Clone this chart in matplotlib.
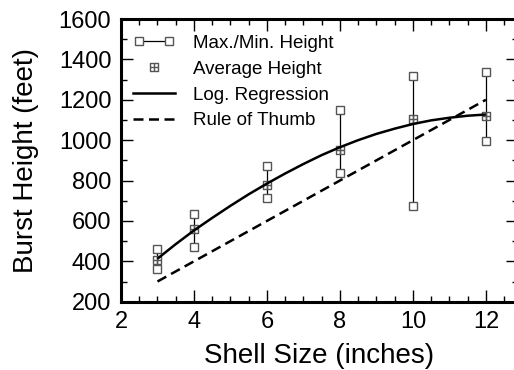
import matplotlib
matplotlib.use("Agg")
import matplotlib.pyplot as plt
from matplotlib.lines import Line2D
from matplotlib.path import Path
from matplotlib.legend_handler import HandlerLine2D
from matplotlib.ticker import MultipleLocator

plt.rcParams['font.family'] = ['Liberation Sans', 'DejaVu Sans']

# ---- data ----
sizes = [3, 4, 6, 8, 10, 12]
max_h = [460, 633, 873, 1147, 1317, 1338]
avg_h = [406, 561, 777, 950, 1107, 1119]
min_h = [364, 472, 712, 837, 672, 994]

reg_x = [3, 3.5, 4, 4.5, 5, 5.5, 6, 6.5, 7, 7.5, 8, 8.5, 9, 9.5, 10, 10.5, 11, 11.5, 12]
reg_y = [413, 485, 553, 615, 675, 732, 785, 835, 882, 926, 965, 1000, 1031, 1057, 1080, 1098, 1111, 1121, 1127]

thumb_x = [3, 12]
thumb_y = [300, 1200]

x_ticks = [2, 4, 6, 8, 10, 12]
y_ticks = [200, 400, 600, 800, 1000, 1200, 1400, 1600]

labels = ["Max./Min. Height", "Average Height", "Log. Regression", "Rule of Thumb"]

# ---- figure ----
W, H = 514, 370
fig = plt.figure(figsize=(W / 100, H / 100), dpi=100)
left, right, top, bottom = 121, 518, 19, 301.7
ax = fig.add_axes([left / W, 1 - bottom / H, (right - left) / W, (bottom - top) / H])

sq_color = '#555555'
ms = 5.8

# square with a plus inside
plus_sq = Path(
    [(-1, -1), (1, -1), (1, 1), (-1, 1), (-1, -1), (-1, 0), (1, 0), (0, -1), (0, 1)],
    [Path.MOVETO, Path.LINETO, Path.LINETO, Path.LINETO, Path.CLOSEPOLY,
     Path.MOVETO, Path.LINETO, Path.MOVETO, Path.LINETO])

ax.vlines(sizes, min_h, max_h, color='black', lw=0.9, zorder=2)
ax.plot(sizes, max_h, 's', ms=ms, mfc='white', mec=sq_color, mew=1.0, ls='none', zorder=3)
ax.plot(sizes, min_h, 's', ms=ms, mfc='white', mec=sq_color, mew=1.0, ls='none', zorder=3)
ax.plot(sizes, avg_h, marker=plus_sq, ms=ms, mfc='none', mec=sq_color, mew=1.0, ls='none', zorder=3)

ax.plot(reg_x, reg_y, color='black', lw=1.8, zorder=4, solid_capstyle='butt')
ax.plot(thumb_x, thumb_y, color='black', lw=1.8, dashes=(4.0, 2.2), zorder=4)

ax.set_xlim(2, 12.88)
ax.set_ylim(200, 1600)
ax.set_xticks(x_ticks)
ax.set_yticks(y_ticks)
ax.xaxis.set_minor_locator(MultipleLocator(0.5))
ax.yaxis.set_minor_locator(MultipleLocator(100))
ax.tick_params(which='both', direction='in', top=True, right=True, width=1.0, color='black')
ax.tick_params(which='major', length=8.5, labelsize=17, pad=7)
ax.tick_params(which='minor', length=4.3)
for s in ax.spines.values():
    s.set_linewidth(2.2)

ax.set_xlabel("Shell Size (inches)", fontsize=20, labelpad=7)
ax.set_ylabel("Burst Height (feet)", fontsize=20, labelpad=14)

# ---- legend ----
h1 = Line2D([], [], color='black', lw=0.9, marker='s', ms=ms, mfc='white', mec=sq_color, mew=1.0)
h2 = Line2D([], [], ls='none', marker=plus_sq, ms=ms, mfc='none', mec=sq_color, mew=1.0)
h3 = Line2D([], [], color='black', lw=1.8)
h4 = Line2D([], [], color='black', lw=1.8, dashes=(4.0, 2.2))
ax.legend([h1, h2, h3, h4], labels, loc='upper left', bbox_to_anchor=(0.03, 0.945),
          frameon=False, fontsize=13.5, handlelength=2.25, handletextpad=0.95,
          labelspacing=0.47, borderaxespad=0.0, borderpad=0.0,
          handler_map={h1: HandlerLine2D(numpoints=2)})

fig.savefig("out.png", dpi=100)
